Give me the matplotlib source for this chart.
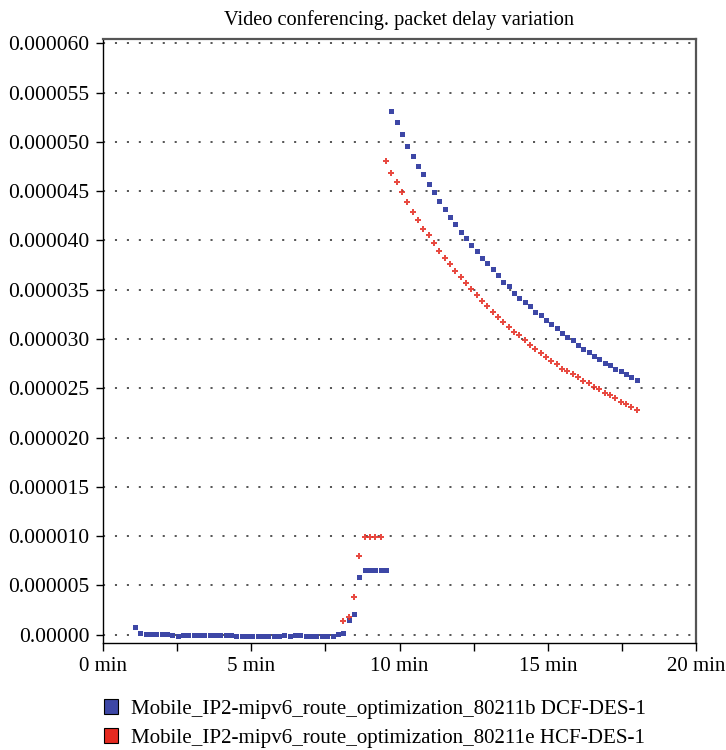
import matplotlib
matplotlib.use("Agg")
import matplotlib.pyplot as plt
from matplotlib.patches import Patch

plt.rcParams['font.family'] = ['Liberation Serif', 'DejaVu Serif']
plt.rcParams['font.size'] = 15
plt.rcParams['lines.scale_dashes'] = False

# sample times (min), one bucket every 0.18 min
blue_minutes = [1.08, 1.26, 1.44, 1.62, 1.80, 1.98, 2.16, 2.34, 2.52, 2.70,
                2.88, 3.06, 3.24, 3.42, 3.60, 3.78, 3.96, 4.14, 4.32, 4.50,
                4.68, 4.86, 5.04, 5.22, 5.40, 5.58, 5.76, 5.94, 6.12, 6.30,
                6.48, 6.66, 6.84, 7.02, 7.20, 7.38, 7.56, 7.74, 7.92, 8.10,
                8.28, 8.46, 8.64, 8.82, 9.00, 9.18, 9.36, 9.54, 9.72, 9.90,
                10.08, 10.26, 10.44, 10.62, 10.80, 10.98, 11.16, 11.34, 11.52, 11.70,
                11.88, 12.06, 12.24, 12.42, 12.60, 12.78, 12.96, 13.14, 13.32, 13.50,
                13.68, 13.86, 14.04, 14.22, 14.40, 14.58, 14.76, 14.94, 15.12, 15.30,
                15.48, 15.66, 15.84, 16.02, 16.20, 16.38, 16.56, 16.74, 16.92, 17.10,
                17.28, 17.46, 17.64, 17.82, 18.00]
red_minutes = blue_minutes[39:]

# values in units of 1e-6 s
dcf_vals = [0.8, 0.2, 0.1, 0.1, 0.1, 0.1, 0.1, 0.0, -0.1,
            0.0, 0.0, 0.0, 0.0, 0.0, 0.0, 0.0, 0.0, 0.0, 0.0,
            -0.1, -0.1, -0.1, -0.1, -0.1, -0.1, -0.1, -0.1, -0.1,
            0.0, -0.1, 0.0, 0.0,
            -0.1, -0.1, -0.1, -0.1, -0.1, -0.1,
            0.1, 0.2, 1.5, 2.1, 5.9,
            6.6, 6.6, 6.6, 6.6, 6.6,
            53.1, 52.0, 50.8, 49.6, 48.6, 47.5, 46.7, 45.7, 44.9, 44.0,
            43.2, 42.4, 41.7, 40.9, 40.2, 39.5, 38.9, 38.2, 37.7, 37.1,
            36.5,
            35.8, 35.4, 34.7, 34.2, 33.7, 33.3, 32.7, 32.4, 31.9, 31.5,
            31.1, 30.6, 30.2, 29.9, 29.4, 29.0, 28.7, 28.3, 28.0, 27.6,
            27.4, 27.0, 26.7, 26.4, 26.1, 25.8]
hcf_vals = [1.4, 1.8, 3.8, 8.0, 9.9, 9.9, 9.9, 9.9,
            48.1, 46.8, 45.9, 44.9, 43.9, 42.9, 42.1, 41.2, 40.5, 39.7,
            38.9, 38.2, 37.6,
            36.9, 36.25, 35.65, 35.05, 34.45, 33.85, 33.3, 32.75, 32.2,
            31.7, 31.2, 30.7, 30.4, 29.9, 29.4, 29.0, 28.6, 28.2, 27.8,
            27.5, 27.0, 26.8, 26.4, 26.1, 25.7, 25.5, 25.1, 24.9, 24.5,
            24.3, 24.0, 23.6, 23.4, 23.1, 22.8]

series_names = ['Mobile_IP2-mipv6_route_optimization_80211b DCF-DES-1',
                'Mobile_IP2-mipv6_route_optimization_80211e HCF-DES-1']
x_ticks = [0, 5, 10, 15, 20]
x_labels = ['0 min', '5 min', '10 min', '15 min', '20 min']
y_ticks = [0, 5, 10, 15, 20, 25, 30, 35, 40, 45, 50, 55, 60]
y_labels = ['0.00000', '0.000005', '0.000010', '0.000015', '0.000020',
            '0.000025', '0.000030', '0.000035', '0.000040', '0.000045',
            '0.000050', '0.000055', '0.000060']

blue = '#3d47a6'
red = '#e52a20'

fig = plt.figure(figsize=(7.26, 7.5), dpi=100)
ax = fig.add_axes([0.1419, 0.1427, 0.8168, 0.8053])

ax.plot(blue_minutes, [v * 1e-6 for v in dcf_vals], 's', color=blue,
        markersize=3.6, markeredgewidth=0, zorder=3)
ax.plot(red_minutes, [v * 1e-6 for v in hcf_vals], 'P', color=red,
        markersize=4.0, markeredgewidth=0, alpha=0.85, zorder=3)

ax.set_xlim(0, 20)
ax.set_ylim(-0.84e-6, 60.43e-6)
ax.set_xticks(x_ticks)
ax.set_xticklabels(x_labels)
ax.set_xticks([2.5, 7.5, 12.5, 17.5], minor=True)
ax.set_yticks([v * 1e-6 for v in y_ticks])
ax.set_yticklabels(y_labels, fontsize=15.5)

for v in y_ticks:
    ax.axhline(v * 1e-6, color='#555555', linewidth=1.4,
               dashes=(1.5, 7.1), zorder=1)

ax.tick_params(axis='x', which='both', direction='out', length=6, width=1,
               pad=4, color='black', labelsize=15)
ax.tick_params(axis='y', direction='out', length=5, width=1, pad=5)

ax.spines['left'].set_color('black')
ax.spines['bottom'].set_color('black')
ax.spines['left'].set_linewidth(1.0)
ax.spines['bottom'].set_linewidth(1.0)
for s in ['top', 'right']:
    ax.spines[s].set_color('#555555')
    ax.spines[s].set_linewidth(1.6)

ax.set_title('Video conferencing. packet delay variation', fontsize=14.7, pad=10)

handles = [Patch(facecolor=blue, edgecolor='black', linewidth=0.8),
           Patch(facecolor=red, edgecolor='black', linewidth=0.8)]
fig.legend(handles, series_names, loc='upper left',
           bbox_to_anchor=(0.143, 0.068), frameon=False, fontsize=15.1,
           handlelength=0.7, handleheight=0.7, handletextpad=0.6,
           labelspacing=0.45, borderaxespad=0, borderpad=0)

fig.savefig('out.png', dpi=100)
